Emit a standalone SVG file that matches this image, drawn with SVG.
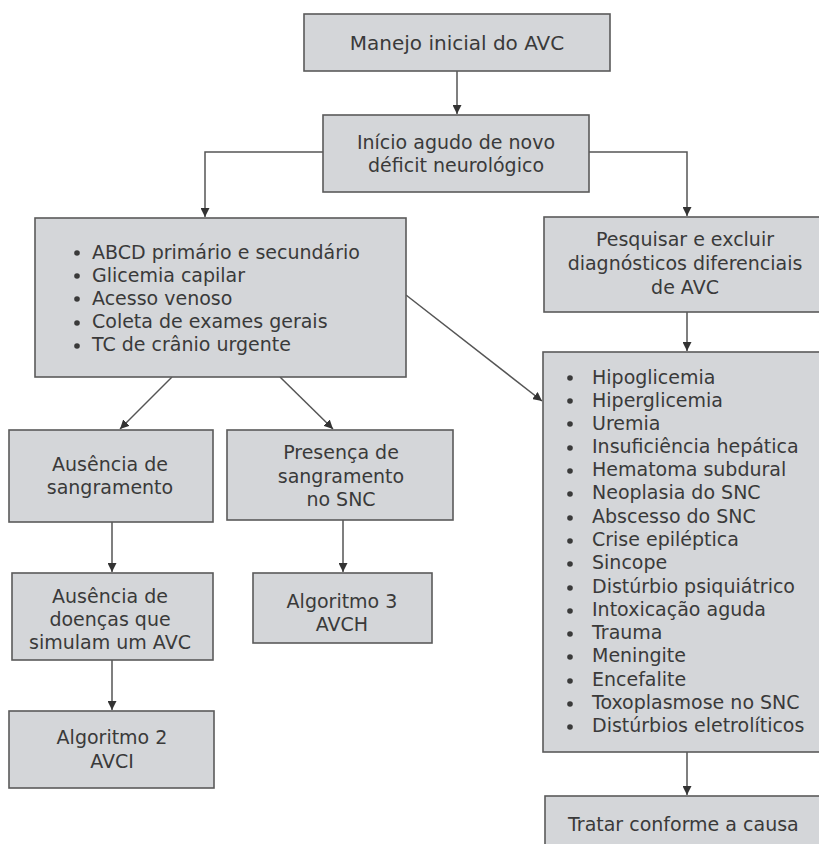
<svg xmlns="http://www.w3.org/2000/svg" width="819" height="844" viewBox="0 0 819 844">
<style>
.box{fill:#d4d6d9;stroke:#5a5a5a;stroke-width:1.6}
text{font-family:"DejaVu Sans","Open Sans","Liberation Sans",sans-serif;font-size:19px;fill:#3a3a3a}
.c{text-anchor:middle}
.dot{fill:#3a3a3a}
.ln{fill:none;stroke:#555;stroke-width:1.5}
</style>
<defs>
<marker id="ah" viewBox="0 0 10 10" refX="10" refY="5" markerWidth="9" markerHeight="9" markerUnits="userSpaceOnUse" orient="auto">
<path d="M0,0 L10,5 L0,10 z" fill="#333"/>
</marker>
</defs>
<rect width="819" height="844" fill="#fff"/>
<g id="connectors">
<path class="ln" d="M457,71 V114" marker-end="url(#ah)"/>
<path class="ln" d="M323,152 H205 V217" marker-end="url(#ah)"/>
<path class="ln" d="M589,152 H687 V216" marker-end="url(#ah)"/>
<path class="ln" d="M687,312 V351" marker-end="url(#ah)"/>
<path class="ln" d="M406,295 L542,401" marker-end="url(#ah)"/>
<path class="ln" d="M172,377 L120,429" marker-end="url(#ah)"/>
<path class="ln" d="M280,377 L333,429" marker-end="url(#ah)"/>
<path class="ln" d="M112,522 V572" marker-end="url(#ah)"/>
<path class="ln" d="M343,520 V572" marker-end="url(#ah)"/>
<path class="ln" d="M112,660 V710" marker-end="url(#ah)"/>
<path class="ln" d="M687,752 V795" marker-end="url(#ah)"/>
</g>
<g id="n1">
<rect class="box" x="304" y="14" width="306" height="57"/>
<text class="c" x="457" y="50" style="font-size:20px">Manejo inicial do AVC</text>
</g>
<g id="n2">
<rect class="box" x="323" y="115" width="266" height="77"/>
<text class="c" x="456" y="149">Início agudo de novo</text>
<text class="c" x="456" y="172">déficit neurológico</text>
</g>
<g id="n3">
<rect class="box" x="35" y="218" width="371" height="159"/>
<circle class="dot" cx="77" cy="253" r="2.8"/><text x="92" y="259">ABCD primário e secundário</text>
<circle class="dot" cx="77" cy="276" r="2.8"/><text x="92" y="282">Glicemia capilar</text>
<circle class="dot" cx="77" cy="299" r="2.8"/><text x="92" y="305">Acesso venoso</text>
<circle class="dot" cx="77" cy="323" r="2.8"/><text x="92" y="328">Coleta de exames gerais</text>
<circle class="dot" cx="77" cy="346" r="2.8"/><text x="92" y="351">TC de crânio urgente</text>
</g>
<g id="n4">
<rect class="box" x="544" y="217" width="280" height="95"/>
<text class="c" x="685" y="246">Pesquisar e excluir</text>
<text class="c" x="685" y="270">diagnósticos diferenciais</text>
<text class="c" x="685" y="294">de AVC</text>
</g>
<g id="n5">
<rect class="box" x="543" y="352" width="281" height="400"/>
<circle class="dot" cx="570" cy="378" r="2.8"/><text x="592" y="384">Hipoglicemia</text>
<circle class="dot" cx="570" cy="401" r="2.8"/><text x="592" y="407">Hiperglicemia</text>
<circle class="dot" cx="570" cy="424" r="2.8"/><text x="592" y="430">Uremia</text>
<circle class="dot" cx="570" cy="448" r="2.8"/><text x="592" y="453">Insuficiência hepática</text>
<circle class="dot" cx="570" cy="471" r="2.8"/><text x="592" y="476">Hematoma subdural</text>
<circle class="dot" cx="570" cy="494" r="2.8"/><text x="592" y="499">Neoplasia do SNC</text>
<circle class="dot" cx="570" cy="518" r="2.8"/><text x="592" y="523">Abscesso do SNC</text>
<circle class="dot" cx="570" cy="541" r="2.8"/><text x="592" y="546">Crise epiléptica</text>
<circle class="dot" cx="570" cy="564" r="2.8"/><text x="592" y="569">Sincope</text>
<circle class="dot" cx="570" cy="588" r="2.8"/><text x="592" y="593">Distúrbio psiquiátrico</text>
<circle class="dot" cx="570" cy="611" r="2.8"/><text x="592" y="616">Intoxicação aguda</text>
<circle class="dot" cx="570" cy="634" r="2.8"/><text x="592" y="639">Trauma</text>
<circle class="dot" cx="570" cy="657" r="2.8"/><text x="592" y="662">Meningite</text>
<circle class="dot" cx="570" cy="681" r="2.8"/><text x="592" y="686">Encefalite</text>
<circle class="dot" cx="570" cy="704" r="2.8"/><text x="592" y="709">Toxoplasmose no SNC</text>
<circle class="dot" cx="570" cy="727" r="2.8"/><text x="592" y="732">Distúrbios eletrolíticos</text>
</g>
<g id="n6">
<rect class="box" x="9" y="430" width="204" height="92"/>
<text class="c" x="110" y="471">Ausência de</text>
<text class="c" x="110" y="494">sangramento</text>
</g>
<g id="n7">
<rect class="box" x="227" y="430" width="226" height="90"/>
<text class="c" x="341" y="459">Presença de</text>
<text class="c" x="341" y="483">sangramento</text>
<text class="c" x="341" y="506">no SNC</text>
</g>
<g id="n8">
<rect class="box" x="12" y="573" width="201" height="87"/>
<text class="c" x="110" y="603">Ausência de</text>
<text class="c" x="110" y="626">doenças que</text>
<text class="c" x="110" y="649">simulam um AVC</text>
</g>
<g id="n9">
<rect class="box" x="253" y="573" width="179" height="70"/>
<text class="c" x="342" y="608">Algoritmo 3</text>
<text class="c" x="342" y="631">AVCH</text>
</g>
<g id="n10">
<rect class="box" x="9" y="711" width="205" height="77"/>
<text class="c" x="112" y="744">Algoritmo 2</text>
<text class="c" x="112" y="768">AVCI</text>
</g>
<g id="n11">
<rect class="box" x="545" y="796" width="279" height="60"/>
<text x="568" y="831">Tratar conforme a causa</text>
</g>
</svg>
